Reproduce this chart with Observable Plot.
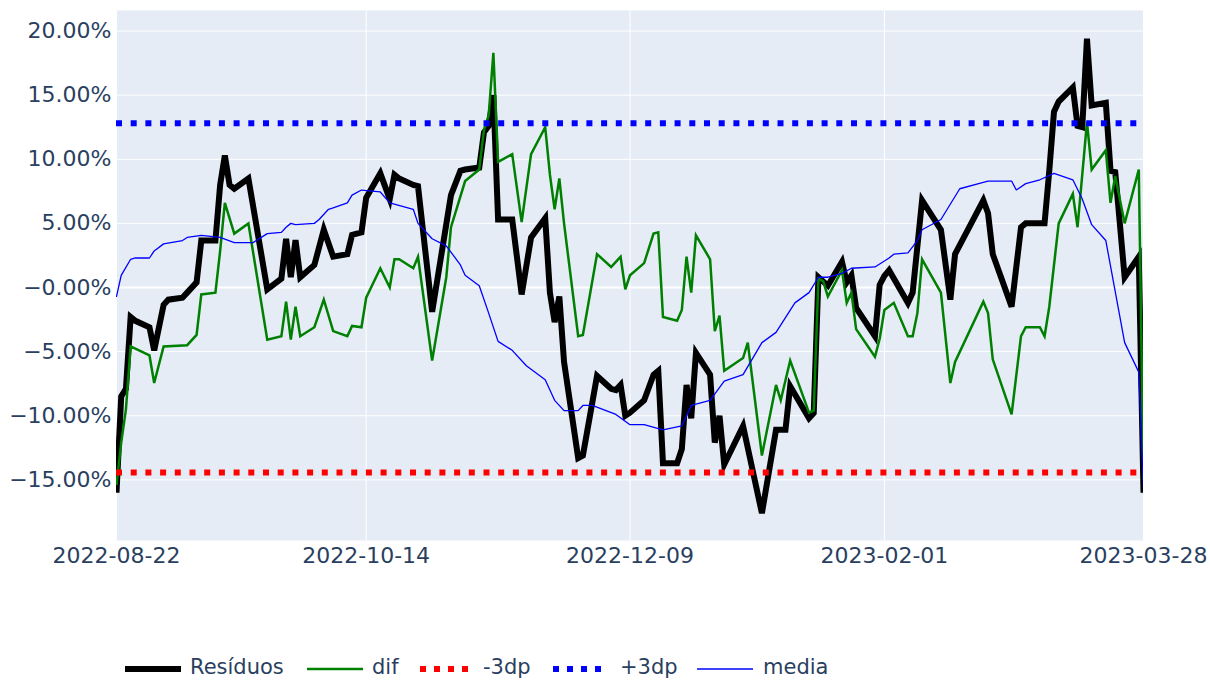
<!DOCTYPE html>
<html>
<head>
<meta charset="utf-8">
<script src="https://cdn.jsdelivr.net/npm/d3@7"></script>
<script src="https://cdn.jsdelivr.net/npm/@observablehq/plot@0.6"></script>
<style>
  html, body { margin: 0; padding: 0; background: white; }
  #wrap { position: relative; width: 1210px; height: 681px; overflow: hidden; font-family: "DejaVu Sans", Verdana, sans-serif; color: #2a3f5f; }
  #legend .sym { position: absolute; }
  #legend .lab { position: absolute; font-size: 21px; line-height: 24px; top: 655px; white-space: nowrap; color: #2a3f5f; }
</style>
</head>
<body>
<div id="wrap">
  <div id="chart"></div>
  <div id="legend"></div>
</div>
<script>
// ---- Data (values in %) ----
const residuos = [
  ["2022-08-22",-16.0],["2022-08-23",-8.5],["2022-08-24",-7.9],["2022-08-25",-2.3],["2022-08-26",-2.6],
  ["2022-08-29",-3.1],["2022-08-30",-4.9],["2022-09-01",-1.35],["2022-09-02",-0.95],["2022-09-05",-0.8],
  ["2022-09-06",-0.4],["2022-09-08",0.4],["2022-09-09",3.66],["2022-09-12",3.66],["2022-09-13",8.0],
  ["2022-09-14",10.3],["2022-09-15",8.0],["2022-09-16",7.7],["2022-09-19",8.5],["2022-09-23",-0.14],
  ["2022-09-26",0.7],["2022-09-27",3.8],["2022-09-28",0.8],["2022-09-29",3.7],["2022-09-30",0.8],
  ["2022-10-03",1.76],["2022-10-05",4.5],["2022-10-07",2.4],["2022-10-10",2.6],["2022-10-11",4.1],
  ["2022-10-13",4.3],["2022-10-14",7.0],["2022-10-17",8.9],["2022-10-19",6.9],["2022-10-20",8.8],
  ["2022-10-21",8.5],["2022-10-24",8.0],["2022-10-25",7.9],["2022-10-28",-1.9],["2022-11-01",7.2],
  ["2022-11-03",9.1],["2022-11-04",9.2],["2022-11-07",9.35],["2022-11-08",12.1],["2022-11-09",12.6],
  ["2022-11-10",15.0],["2022-11-11",5.3],["2022-11-14",5.3],["2022-11-16",-0.54],["2022-11-18",3.9],
  ["2022-11-21",5.4],["2022-11-22",-0.4],["2022-11-23",-2.7],["2022-11-24",-0.7],["2022-11-25",-5.8],
  ["2022-11-28",-13.3],["2022-11-29",-13.1],["2022-12-02",-6.9],["2022-12-05",-7.9],["2022-12-06",-8.0],
  ["2022-12-07",-7.6],["2022-12-08",-10.0],["2022-12-09",-9.76],["2022-12-12",-8.8],["2022-12-14",-6.8],
  ["2022-12-15",-6.5],["2022-12-16",-13.7],["2022-12-19",-13.7],["2022-12-20",-12.6],["2022-12-21",-7.6],
  ["2022-12-22",-10.2],["2022-12-23",-5.1],["2022-12-26",-6.8],["2022-12-27",-12.1],["2022-12-28",-10.0],
  ["2022-12-29",-13.8],["2023-01-02",-10.8],["2023-01-06",-17.6],["2023-01-09",-11.1],["2023-01-11",-11.1],
  ["2023-01-12",-7.7],["2023-01-16",-10.2],["2023-01-17",-9.8],["2023-01-18",0.8],["2023-01-20",0.14],
  ["2023-01-23",2.0],["2023-01-24",0.4],["2023-01-25",0.95],["2023-01-26",-1.6],["2023-01-30",-3.8],
  ["2023-01-31",0.2],["2023-02-01",0.9],["2023-02-02",1.35],["2023-02-06",-1.2],["2023-02-07",-0.4],
  ["2023-02-09",6.8],["2023-02-13",4.5],["2023-02-15",-0.95],["2023-02-16",2.6],["2023-02-22",6.8],
  ["2023-02-23",5.8],["2023-02-24",2.6],["2023-02-28",-1.5],["2023-03-02",4.7],["2023-03-03",5.0],
  ["2023-03-07",5.0],["2023-03-08",9.1],["2023-03-09",13.7],["2023-03-10",14.5],["2023-03-13",15.6],
  ["2023-03-14",12.6],["2023-03-15",12.5],["2023-03-16",19.4],["2023-03-17",14.2],["2023-03-20",14.4],
  ["2023-03-21",9.1],["2023-03-22",9.0],["2023-03-24",0.8],["2023-03-27",2.4],["2023-03-28",-16.0]
];
const dif = [
  ["2022-08-22",-15.4],["2022-08-23",-12.1],["2022-08-24",-9.5],["2022-08-25",-4.6],["2022-08-29",-5.3],
  ["2022-08-30",-7.45],["2022-09-01",-4.6],["2022-09-06",-4.5],["2022-09-08",-3.7],["2022-09-09",-0.54],
  ["2022-09-12",-0.4],["2022-09-13",2.85],["2022-09-14",6.6],["2022-09-16",4.2],["2022-09-19",5.0],
  ["2022-09-23",-4.07],["2022-09-26",-3.8],["2022-09-27",-1.1],["2022-09-28",-4.07],["2022-09-29",-1.5],
  ["2022-09-30",-3.8],["2022-10-03",-3.1],["2022-10-05",-0.95],["2022-10-07",-3.4],["2022-10-10",-3.8],
  ["2022-10-11",-3.0],["2022-10-13",-3.1],["2022-10-14",-0.8],["2022-10-17",1.5],["2022-10-19",0.0],
  ["2022-10-20",2.2],["2022-10-21",2.2],["2022-10-24",1.5],["2022-10-25",2.4],["2022-10-28",-5.7],
  ["2022-10-31",0.8],["2022-11-01",4.7],["2022-11-04",8.3],["2022-11-07",9.2],["2022-11-08",12.3],
  ["2022-11-09",13.4],["2022-11-10",18.3],["2022-11-11",9.8],["2022-11-14",10.4],["2022-11-16",5.1],
  ["2022-11-18",10.4],["2022-11-21",12.5],["2022-11-22",8.8],["2022-11-23",6.1],["2022-11-24",8.5],
  ["2022-11-25",5.0],["2022-11-28",-3.8],["2022-11-29",-3.7],["2022-12-02",2.6],["2022-12-05",1.6],
  ["2022-12-06",2.0],["2022-12-07",2.4],["2022-12-08",-0.14],["2022-12-09",0.95],["2022-12-12",1.9],
  ["2022-12-14",4.2],["2022-12-15",4.3],["2022-12-16",-2.3],["2022-12-19",-2.6],["2022-12-20",-1.76],
  ["2022-12-21",2.4],["2022-12-22",-0.4],["2022-12-23",4.07],["2022-12-26",2.2],["2022-12-27",-3.4],
  ["2022-12-28",-2.2],["2022-12-29",-6.5],["2023-01-02",-5.5],["2023-01-03",-4.3],["2023-01-06",-13.1],
  ["2023-01-09",-7.6],["2023-01-10",-8.8],["2023-01-12",-5.7],["2023-01-16",-9.76],["2023-01-17",-9.6],
  ["2023-01-18",0.68],["2023-01-19",0.5],["2023-01-20",-0.7],["2023-01-23",1.35],["2023-01-24",-1.2],
  ["2023-01-25",-0.4],["2023-01-26",-3.25],["2023-01-30",-5.4],["2023-01-31",-4.0],["2023-02-01",-1.76],
  ["2023-02-03",-1.2],["2023-02-06",-3.8],["2023-02-07",-3.8],["2023-02-08",-2.0],["2023-02-09",2.2],
  ["2023-02-13",-0.4],["2023-02-15",-7.45],["2023-02-16",-5.8],["2023-02-22",-1.1],["2023-02-23",-2.0],
  ["2023-02-24",-5.6],["2023-02-28",-9.9],["2023-03-02",-3.8],["2023-03-03",-3.1],["2023-03-06",-3.1],
  ["2023-03-07",-3.8],["2023-03-08",-1.5],["2023-03-10",5.0],["2023-03-13",7.3],["2023-03-14",4.7],
  ["2023-03-16",12.9],["2023-03-17",9.2],["2023-03-20",10.7],["2023-03-21",6.6],["2023-03-22",8.7],
  ["2023-03-24",5.0],["2023-03-27",9.2],["2023-03-28",-15.0]
];
const media = [
  ["2022-08-22",-0.7],["2022-08-23",0.95],["2022-08-25",2.2],["2022-08-26",2.3],["2022-08-29",2.3],
  ["2022-08-30",2.85],["2022-09-01",3.4],["2022-09-05",3.66],["2022-09-06",3.9],["2022-09-09",4.07],
  ["2022-09-13",3.9],["2022-09-16",3.5],["2022-09-20",3.5],["2022-09-23",4.2],["2022-09-26",4.3],
  ["2022-09-27",4.7],["2022-09-28",5.0],["2022-09-29",4.9],["2022-10-03",5.0],["2022-10-04",5.3],
  ["2022-10-06",6.1],["2022-10-07",6.2],["2022-10-10",6.6],["2022-10-11",7.2],["2022-10-13",7.6],
  ["2022-10-17",7.45],["2022-10-19",6.6],["2022-10-24",6.1],["2022-10-25",5.0],["2022-10-28",3.8],
  ["2022-10-31",3.25],["2022-11-03",1.76],["2022-11-04",0.95],["2022-11-07",0.14],["2022-11-09",-2.0],
  ["2022-11-11",-4.2],["2022-11-14",-4.9],["2022-11-17",-6.1],["2022-11-21",-7.2],["2022-11-23",-8.8],
  ["2022-11-25",-9.6],["2022-11-28",-9.6],["2022-11-29",-9.2],["2022-12-01",-9.2],["2022-12-06",-9.9],
  ["2022-12-09",-10.7],["2022-12-12",-10.7],["2022-12-16",-11.1],["2022-12-20",-10.8],["2022-12-22",-9.2],
  ["2022-12-26",-8.8],["2022-12-29",-7.3],["2023-01-02",-6.8],["2023-01-06",-4.3],["2023-01-09",-3.5],
  ["2023-01-13",-1.2],["2023-01-16",-0.4],["2023-01-18",0.8],["2023-01-20",0.8],["2023-01-23",1.1],
  ["2023-01-25",1.5],["2023-01-30",1.6],["2023-02-02",2.3],["2023-02-03",2.6],["2023-02-06",2.7],
  ["2023-02-08",3.66],["2023-02-09",4.5],["2023-02-13",5.3],["2023-02-17",7.7],["2023-02-21",8.1],
  ["2023-02-23",8.3],["2023-02-28",8.3],["2023-03-01",7.6],["2023-03-03",8.1],["2023-03-06",8.4],
  ["2023-03-09",8.9],["2023-03-13",8.4],["2023-03-15",6.9],["2023-03-17",4.9],["2023-03-20",3.66],
  ["2023-03-24",-4.3],["2023-03-27",-6.6],["2023-03-28",-15.8]
];
const menos3dp = -14.42;
const mais3dp = 12.8;
const yTicks = [-15, -10, -5, 0, 5, 10, 15, 20];
const xTickLabels = ["2022-08-22", "2022-10-14", "2022-12-09", "2023-02-01", "2023-03-28"];
const seriesNames = ["Resíduos", "dif", "-3dp", "+3dp", "media"];

// ---- Build ----
const parse = d3.utcParse("%Y-%m-%d");
const toRows = arr => arr.map(([d, v]) => ({date: parse(d), value: v}));
const rRes = toRows(residuos), rDif = toRows(dif), rMed = toRows(media);
const xTicks = xTickLabels.map(parse);
const fmtY = v => (v === 0 ? "\u22120.00%" : (v < 0 ? "\u2212" : "") + Math.abs(v).toFixed(2) + "%");

const chart = Plot.plot({
  width: 1210,
  height: 600,
  marginTop: 10,
  marginBottom: 60,
  marginLeft: 116,
  marginRight: 67,
  style: {background: "white", fontFamily: "'DejaVu Sans', Verdana, sans-serif", fontSize: "22px", color: "#2a3f5f", overflow: "visible"},
  x: {type: "utc", domain: [xTicks[0], xTicks[xTicks.length - 1]]},
  y: {domain: [-19.73, 21.6]},
  marks: [
    Plot.frame({fill: "#E5ECF6", stroke: null}),
    Plot.gridY(yTicks, {stroke: "white", strokeOpacity: 1, strokeWidth: 1}),
    Plot.ruleY([0], {stroke: "white", strokeWidth: 2}),
    Plot.gridX(xTicks, {stroke: "white", strokeOpacity: 1, strokeWidth: 1}),
    Plot.axisY(yTicks, {tickSize: 0, tickPadding: 5, tickFormat: fmtY, fill: "#2a3f5f", fontSize: 22, label: null}),
    Plot.axisX(xTicks, {tickSize: 0, tickPadding: 7, tickFormat: d3.utcFormat("%Y-%m-%d"), fill: "#2a3f5f", fontSize: 22, label: null}),
    Plot.line(rRes, {x: "date", y: "value", stroke: "black", strokeWidth: 6, strokeLinejoin: "miter", strokeMiterlimit: 4, strokeLinecap: "butt", clip: true}),
    Plot.line(rDif, {x: "date", y: "value", stroke: "green", strokeWidth: 2.5, strokeLinejoin: "miter", strokeMiterlimit: 4, strokeLinecap: "butt", clip: true}),
    Plot.ruleY([menos3dp], {stroke: "red", strokeWidth: 6, strokeDasharray: "6,8.7"}),
    Plot.ruleY([mais3dp], {stroke: "blue", strokeWidth: 6, strokeDasharray: "6,8.7"}),
    Plot.line(rMed, {x: "date", y: "value", stroke: "blue", strokeWidth: 1.3, strokeLinejoin: "miter", clip: true})
  ]
});
document.getElementById("chart").appendChild(chart);

// ---- Legend ----
const legend = document.getElementById("legend");
const legendItems = [
  {name: seriesNames[0], color: "black", width: 6, dash: null, symLeft: 125, textLeft: 190},
  {name: seriesNames[1], color: "green", width: 2.5, dash: null, symLeft: 307, textLeft: 372},
  {name: seriesNames[2], color: "red", width: 6, dash: "6,8", symLeft: 420, textLeft: 483},
  {name: seriesNames[3], color: "blue", width: 6, dash: "6,8", symLeft: 553, textLeft: 620},
  {name: seriesNames[4], color: "blue", width: 1.6, dash: null, symLeft: 697, textLeft: 763}
];
for (const it of legendItems) {
  const ns = "http://www.w3.org/2000/svg";
  const s = document.createElementNS(ns, "svg");
  s.setAttribute("width", 56); s.setAttribute("height", 12);
  s.setAttribute("class", "sym");
  s.style.left = it.symLeft + "px"; s.style.top = "663px";
  const l = document.createElementNS(ns, "line");
  l.setAttribute("x1", 0); l.setAttribute("x2", 56); l.setAttribute("y1", 6); l.setAttribute("y2", 6);
  l.setAttribute("stroke", it.color); l.setAttribute("stroke-width", it.width);
  if (it.dash) l.setAttribute("stroke-dasharray", it.dash);
  s.appendChild(l);
  legend.appendChild(s);
  const t = document.createElement("div");
  t.className = "lab"; t.textContent = it.name; t.style.left = it.textLeft + "px";
  legend.appendChild(t);
}
</script>
</body>
</html>
